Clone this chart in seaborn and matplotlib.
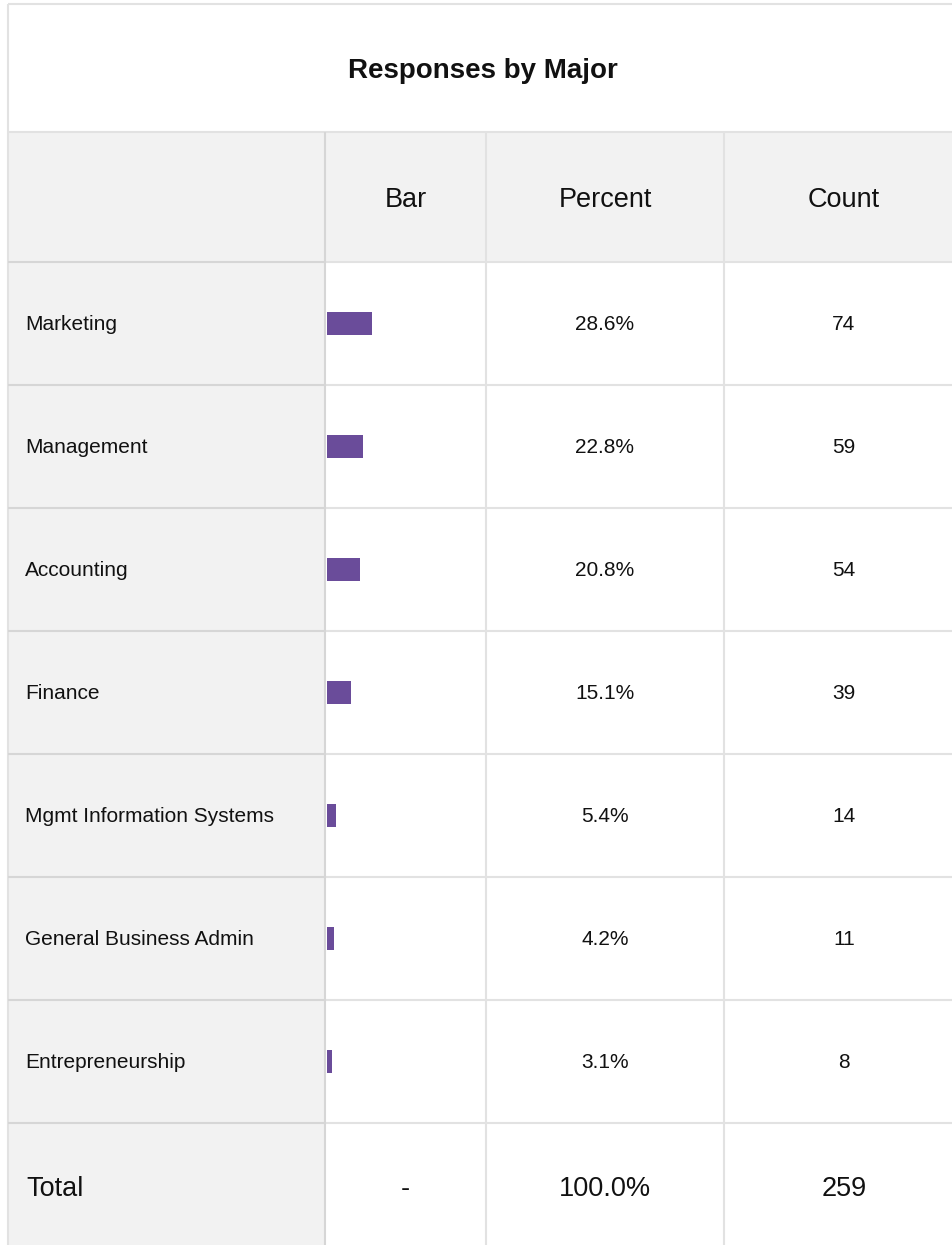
import matplotlib
matplotlib.use("Agg")
import matplotlib.pyplot as plt
from matplotlib.patches import Rectangle
import seaborn as sns
import pandas as pd

plt.rcParams['font.family'] = ['Liberation Sans', 'DejaVu Sans']

# ---- data ----
title = "Responses by Major"
headers = ["Bar", "Percent", "Count"]
majors = ["Marketing", "Management", "Accounting", "Finance",
          "Mgmt Information Systems", "General Business Admin", "Entrepreneurship"]
percents = [28.6, 22.8, 20.8, 15.1, 5.4, 4.2, 3.1]
counts = [74, 59, 54, 39, 14, 11, 8]
total_label = "Total"
total_bar = "-"
total_percent = 100.0
total_count = 259

# ---- layout (pixels) ----
W, H = 953, 1245
DPI = 100
x_left, x_c1, x_c2, x_c3, x_right = 8, 325, 486, 724, 964
y_top, y_head, y_data = 4, 132, 262
row_h = 123
n = len(majors)
y_total = y_data + n * row_h
y_bottom = y_total + row_h

line_c = '#E2E2E2'
line_dark = '#D6D6D6'
grey_bg = '#F2F2F2'
text_c = '#111111'
bar_c = '#6A4C9A'

fig = plt.figure(figsize=(W / DPI, H / DPI), dpi=DPI)
ax = fig.add_axes([0, 0, 1, 1])
ax.set_xlim(0, W)
ax.set_ylim(H, 0)
ax.axis('off')

# backgrounds
ax.add_patch(Rectangle((x_left, y_top), x_right - x_left, y_head - y_top, facecolor='white', edgecolor='none'))
ax.add_patch(Rectangle((x_left, y_head), x_right - x_left, y_data - y_head, facecolor=grey_bg, edgecolor='none'))
ax.add_patch(Rectangle((x_left, y_data), x_c1 - x_left, y_bottom - y_data, facecolor=grey_bg, edgecolor='none'))

lw = 1.5
# outer border
ax.hlines(y_top, x_left, x_right, colors=line_c, lw=lw)
ax.vlines(x_left, y_top, y_bottom, colors=line_c, lw=lw)
# horizontal lines
ax.hlines(y_head, x_left, x_right, colors=line_c, lw=lw)
for k in range(n + 1):
    yy = y_data + k * row_h
    ax.hlines(yy, x_left, x_c1, colors=line_dark, lw=lw)
    ax.hlines(yy, x_c1, x_right, colors=line_c, lw=lw)
# vertical lines
ax.vlines(x_c1, y_head, y_bottom, colors=line_dark, lw=lw)
ax.vlines([x_c2, x_c3], y_head, y_bottom, colors=line_c, lw=lw)

# title
ax.text((x_left + W) / 2 + 2, (y_top + y_head) / 2 + 3, title, ha='center', va='center',
        fontsize=20, fontweight='bold', color=text_c)

# headers
hy = (y_head + y_data) / 2 + 3
centers = [(x_c1 + x_c2) / 2, (x_c2 + x_c3) / 2, (x_c3 + x_right) / 2]
for cx, h in zip(centers, headers):
    ax.text(cx, hy, h, ha='center', va='center', fontsize=19.5, color=text_c)

# rows
for i, (m, p, c) in enumerate(zip(majors, percents, counts)):
    cy = y_data + (i + 0.5) * row_h + 1
    ax.text(25, cy, m, ha='left', va='center', fontsize=15, color=text_c)
    ax.text(centers[1], cy, f"{p:.1f}%", ha='center', va='center', fontsize=15, color=text_c)
    ax.text(centers[2], cy, f"{c}", ha='center', va='center', fontsize=15, color=text_c)

# total row
ty = y_total + row_h / 2 + 5
ax.text(26, ty, total_label, ha='left', va='center', fontsize=19.5, color=text_c)
ax.text(centers[0], ty, total_bar, ha='center', va='center', fontsize=19.5, color=text_c)
ax.text(centers[1], ty, f"{total_percent:.1f}%", ha='center', va='center', fontsize=19.5, color=text_c)
ax.text(centers[2], ty, f"{total_count}", ha='center', va='center', fontsize=19.5, color=text_c)

# bars via seaborn
bar_x0 = 327.5
bar_span = 157.0
axb = fig.add_axes([bar_x0 / W, 1 - y_total / H, bar_span / W, (y_total - y_data) / H])
axb.patch.set_alpha(0)
df = pd.DataFrame({"major": majors, "percent": percents})
sns.barplot(data=df, x="percent", y="major", orient='h', color=bar_c, saturation=1,
            width=0.18, ax=axb)
axb.set_xlim(0, 100)
axb.set_ylim(n - 0.5, -0.5)
axb.axis('off')

fig.savefig("out.png", dpi=DPI)
